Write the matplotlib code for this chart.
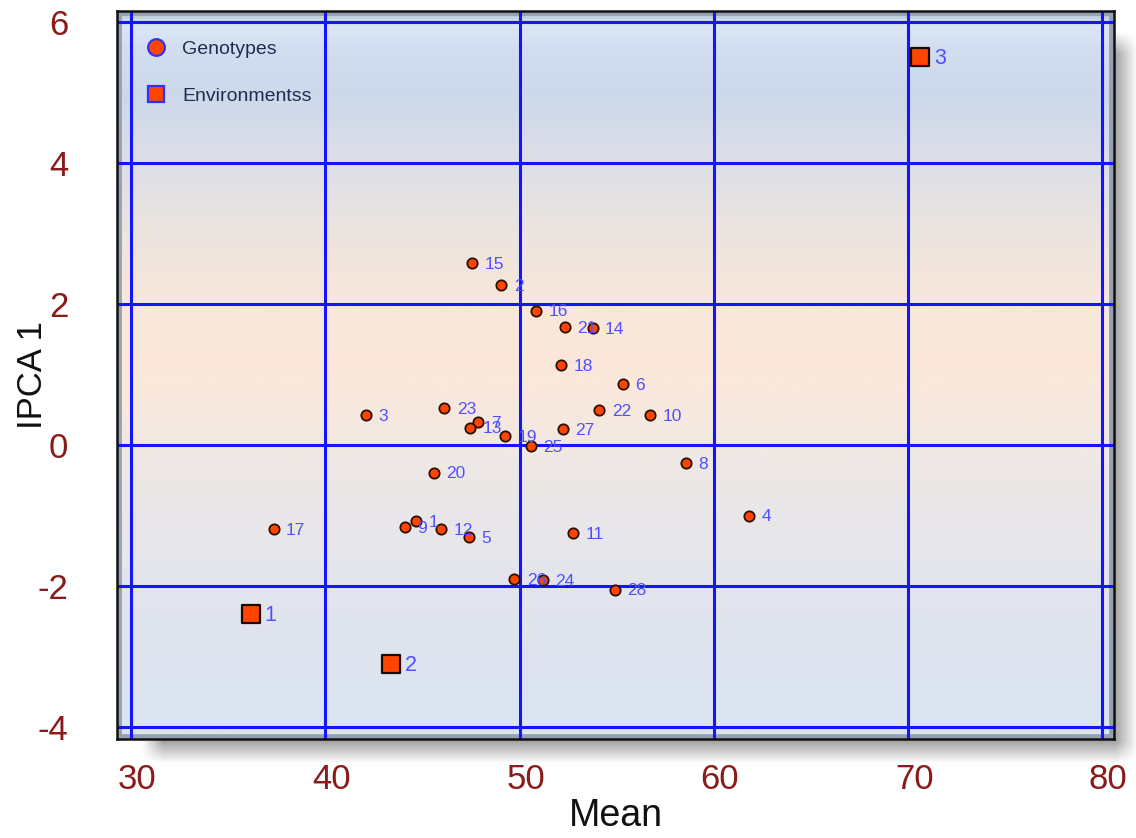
import matplotlib
matplotlib.use('Agg')
import matplotlib.pyplot as plt
import numpy as np
from matplotlib.colors import LinearSegmentedColormap
from matplotlib.lines import Line2D
from matplotlib.patches import Rectangle
from matplotlib.transforms import ScaledTranslation

# genotypes (points 1..28)
gen_ids = [str(i) for i in range(1, 29)]
gen_mean = [44.69, 49.06, 42.11, 61.80, 47.39, 55.31, 47.87, 58.56, 44.09, 56.74,
            52.75, 45.96, 47.44, 53.76, 47.56, 50.86, 37.34, 52.16, 49.26, 45.58,
            52.32, 54.11, 46.13, 51.20, 50.58, 49.73, 52.23, 54.90]
gen_ipca = [-1.08, 2.27, 0.43, -1.00, -1.31, 0.87, 0.33, -0.26, -1.16, 0.43,
            -1.25, -1.19, 0.25, 1.66, 2.58, 1.91, -1.19, 1.14, 0.13, -0.39,
            1.67, 0.50, 0.52, -1.92, -0.01, -1.90, 0.23, -2.05]

# environments
env_ids = ['1', '2', '3']
env_mean = [36.17, 43.39, 70.62]
env_ipca = [-2.40, -3.11, 5.51]

x_ticks = [30, 40, 50, 60, 70, 80]
y_ticks = [-4, -2, 0, 2, 4, 6]

plt.rcParams['axes.unicode_minus'] = False
FONT = 'Liberation Sans'

W, H = 1136, 838
fig = plt.figure(figsize=(W / 100, H / 100), dpi=100)

# drop shadow behind the plot box
bg = fig.add_axes([0, 0, 1, 1], zorder=-10)
bg.axis('off')
mask = np.zeros((H, W))
mask[43:752, 152:1126] = 1.0
k = np.ones(22) / 22
mask = np.apply_along_axis(lambda r: np.convolve(r, k, mode='same'), 1, mask)
mask = np.apply_along_axis(lambda c: np.convolve(c, k, mode='same'), 0, mask)
shadow = np.zeros((H, W, 4))
shadow[..., 3] = np.clip(mask, 0, 1) * 0.36
bg.imshow(shadow, extent=(0, 1, 0, 1), aspect='auto', interpolation='bilinear')
bg.set_xlim(0, 1)
bg.set_ylim(0, 1)

ax = fig.add_axes([117 / W, 1 - 739 / H, 997 / W, 728 / H])

# background gradient (top -> bottom)
stops = [(0.0, '#b9c6d8'), (0.02, '#dbe7f7'), (0.05, '#d2def0'), (0.12, '#cdd9ea'),
         (0.2, '#dcdee8'), (0.3, '#ece4e0'), (0.4, '#f8e7da'), (0.5, '#fbe8da'),
         (0.58, '#f4e8e0'), (0.63, '#eee8e6'), (0.75, '#e6e6ec'), (0.88, '#dee4ef'),
         (1.0, '#dae4f3')]
cmap = LinearSegmentedColormap.from_list('bgv', stops)
grad = np.linspace(0, 1, 400).reshape(-1, 1)
ax.imshow(grad, cmap=cmap, extent=(0, 1, 0, 1), transform=ax.transAxes,
          aspect='auto', origin='upper', zorder=-2)

# bevel inside frame
ax.add_patch(Rectangle((0, 0), 1, 1, transform=ax.transAxes, fill=False,
                       edgecolor='#95a0b0', linewidth=7, zorder=-1))

ax.set_axisbelow(True)
ax.grid(True, color='#1414ff', linewidth=2.2)

ax.scatter(gen_mean, gen_ipca, s=55, marker='o', facecolor='#ff4500',
           edgecolor='#2a1000', linewidths=1.3, zorder=4)
ax.scatter(env_mean, env_ipca, s=150, marker='s', facecolor='#ff4500',
           edgecolor='#1a0a00', linewidths=1.6, zorder=4)

for lab, x, y in zip(gen_ids, gen_mean, gen_ipca):
    ax.annotate(lab, (x, y), xytext=(9, -1), textcoords='offset points',
                fontsize=12.5, color='#5050ff', family=FONT, va='center', ha='left', zorder=5)
for lab, x, y in zip(env_ids, env_mean, env_ipca):
    ax.annotate(lab, (x, y), xytext=(10, -1), textcoords='offset points',
                fontsize=15.5, color='#5050ff', family=FONT, va='center', ha='left', zorder=5)

ax.set_xlim(29.28, 80.6)
ax.set_ylim(-4.17, 6.16)
ax.set_xticks(x_ticks)
ax.set_yticks(y_ticks)
ax.tick_params(length=0)
ax.tick_params(axis='x', pad=17)
ax.tick_params(axis='y', pad=35)
shift = ScaledTranslation(6 / 100, 0, fig.dpi_scale_trans)
for t in ax.get_xticklabels():
    t.set_transform(t.get_transform() + shift)
for t in ax.get_xticklabels() + ax.get_yticklabels():
    t.set_fontfamily(FONT)
    t.set_fontsize(25)
    t.set_color('#8b1a1a')

for sp in ax.spines.values():
    sp.set_color('#111111')
    sp.set_linewidth(1.8)

ax.set_xlabel('Mean', fontsize=27, family=FONT, color='#111111')
ax.set_ylabel('IPCA 1', fontsize=25, family=FONT, color='#111111')
ax.xaxis.set_label_coords(0.5, -0.081)
ax.yaxis.set_label_coords(-0.068, 0.5)

handles = [
    Line2D([], [], ls='', marker='o', markersize=12, markerfacecolor='#ff4500',
           markeredgecolor='#3030ff', markeredgewidth=1.6),
    Line2D([], [], ls='', marker='s', markersize=12, markerfacecolor='#ff4500',
           markeredgecolor='#3030ff', markeredgewidth=1.6),
]
leg = ax.legend(handles, ['Genotypes', 'Environmentss'], loc='upper left',
                bbox_to_anchor=(0, 1), borderaxespad=0, borderpad=1.5,
                handlelength=1.0, handletextpad=0.85, labelspacing=1.5,
                frameon=False, prop={'family': FONT, 'size': 14})
for t in leg.get_texts():
    t.set_color('#1f2d4f')

fig.savefig('out.png', dpi=100)
